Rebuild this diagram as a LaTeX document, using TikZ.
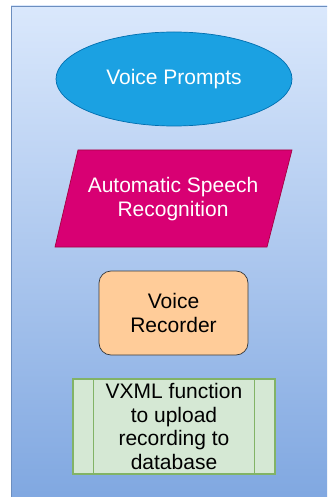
\documentclass[tikz,border=0pt]{standalone}
\usepackage{fontspec}
\setmainfont{Liberation Sans}
\usetikzlibrary{shapes.geometric,shapes.multipart}
\definecolor{bgtop}{RGB}{218,232,252}
\definecolor{bgbot}{RGB}{126,166,224}
\definecolor{bgline}{RGB}{108,142,191}
\definecolor{prfill}{RGB}{27,161,226}
\definecolor{prline}{RGB}{0,110,175}
\definecolor{asrfill}{RGB}{216,0,115}
\definecolor{asrline}{RGB}{165,0,64}
\definecolor{recfill}{RGB}{255,204,153}
\definecolor{recline}{RGB}{54,57,61}
\definecolor{upfill}{RGB}{213,232,212}
\definecolor{upline}{RGB}{130,179,102}
\tikzset{
  lbl/.style={font=\fontsize{21}{24.5}\selectfont, align=center, inner sep=0pt},
}
\begin{document}
\begin{tikzpicture}[x=1pt,y=-1pt]
  \useasboundingbox (0,0) rectangle (327,497);
  % swimlane background
  \begin{scope}
    \clip (0,0) rectangle (327,497);
    \shade[top color=bgtop, bottom color=bgbot] (11,6) rectangle (340,510);
    \draw[bgline, line width=0.8pt] (11,510) -- (11,6) -- (340,6);
  \end{scope}
  % voice prompts
  \node[ellipse, draw=prline, fill=prfill, line width=0.7pt,
        minimum width=236pt, minimum height=94pt, inner sep=0pt]
        (prompts) at (174,79) {};
  \node[lbl, text=white] (promptstxt) at (prompts.center) {Voice Prompts};
  % speech recognition
  \coordinate (asrA) at (78,150);
  \coordinate (asrB) at (292,150);
  \coordinate (asrC) at (267,247);
  \coordinate (asrD) at (55,247);
  \draw[asrline, fill=asrfill, line width=0.7pt] (asrA) -- (asrB) -- (asrC) -- (asrD) -- cycle;
  \node[lbl, text=white] (asr) at (173,199) {Automatic Speech\\Recognition};
  % voice recorder
  \node[draw=recline, fill=recfill, rounded corners=12pt, line width=0.7pt,
        minimum width=149pt, minimum height=84pt, inner sep=0pt]
        (rec) at (173.5,313) {};
  \node[lbl, text=black] (rectxt) at (rec.center) {Voice\\Recorder};
  % upload routine
  \node[draw=upline, fill=upfill, line width=1.2pt,
        minimum width=202pt, minimum height=95pt, inner sep=0pt]
        (up) at (174,426.5) {};
  \draw[upline, line width=1.2pt] ([xshift=21pt]up.north west) -- ([xshift=21pt]up.south west);
  \draw[upline, line width=1.2pt] ([xshift=-21pt]up.north east) -- ([xshift=-21pt]up.south east);
  \node[lbl, text=black, font=\fontsize{21}{23.5}\selectfont] (uptxt) at (174,426.5)
        {VXML function\\to upload\\recording to\\database};
\end{tikzpicture}
\end{document}
